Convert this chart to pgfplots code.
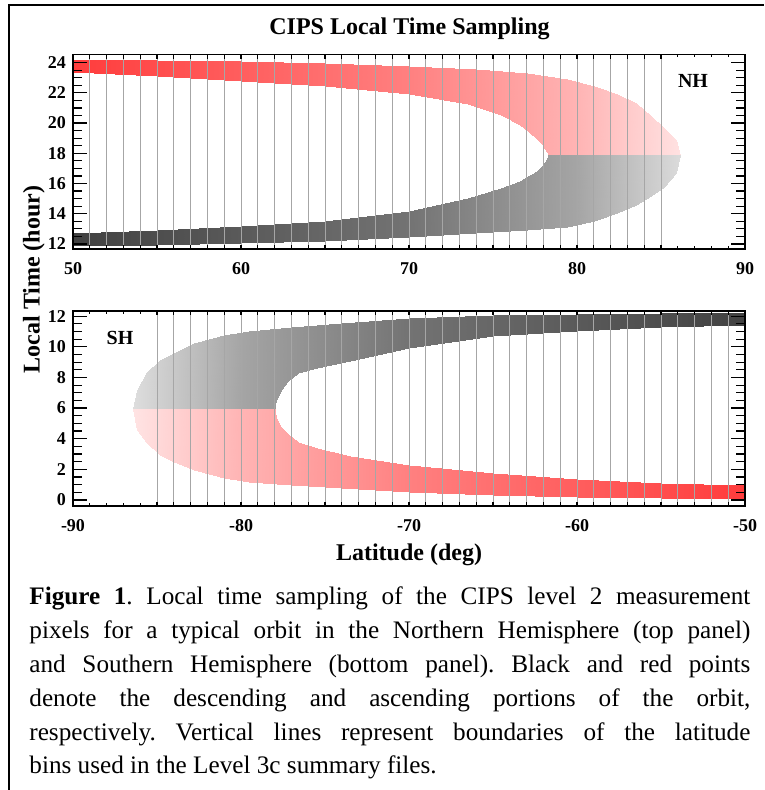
\documentclass[border=0pt]{standalone}
\usepackage{fontspec}
\setmainfont{Liberation Serif}
\usepackage{pgfplots}
\pgfplotsset{compat=1.18}

\pgfplotsset{
  colormap={redfade}{rgb255(0pt)=(255,60,60); rgb255(200pt)=(255,128,128); rgb255(300pt)=(255,180,180); rgb255(365pt)=(255,228,228)},
  colormap={greyfade}{rgb255(0pt)=(65,65,65); rgb255(200pt)=(115,115,115); rgb255(300pt)=(165,165,165); rgb255(365pt)=(222,222,222)},
  cips/.style={
    scale only axis, width=336pt,
    axis line style={line width=0.9pt},
    tick style={line width=0.6pt, black},
    tick align=inside,
    minor x tick num=9, minor y tick num=3,
    every x tick/.append style={/pgfplots/major tick length=2.2pt, /pgfplots/minor tick length=1.4pt},
    every y tick/.append style={/pgfplots/major tick length=7pt, /pgfplots/minor tick length=4.5pt},
    ticklabel style={font=\bfseries\fontsize{9}{10}\selectfont},
    /pgf/number format/assume math mode=true,
    xticklabel style={yshift=-3pt},
    axis on top,
    point meta min=50, point meta max=86.5,
    extra x tick style={grid=major, major grid style={black!35, line width=0.45pt}},
    extra x tick labels={},
  },
  band/.style={surf, shader=interp, colormap name=#1, point meta={abs(\thisrow{lat})}},
}

\begin{document}
\begin{tikzpicture}
\useasboundingbox (0,0) rectangle (382pt,395pt);
\draw[line width=1pt] (4.35pt,0) -- (4.35pt,392.6pt) -- (382pt,392.6pt);

% northern hemisphere
\begin{axis}[cips, at={(36.5pt,270.5pt)}, anchor=south west, height=97.2pt,
  xmin=50, xmax=90, ymin=11.67, ymax=24.53,
  xtick={50,60,...,90}, ytick={12,14,...,24},
  extra x ticks={51,...,85}]
% ascending (red)
\addplot[band=redfade] table[x=lat, y=lt] {
lat lt
50 24.2
55 24.15
60 24.08
65 24.0
70 23.8
74 23.55
77 23.3
79.4 22.9
81 22.45
82.4 21.9
83.5 21.3
84.4 20.5
85.2 19.7
85.9 18.9
86.15 17.9

50 23.38
55 23.1
60 22.8
65 22.45
70 21.95
73.5 21.25
75.5 20.55
76.6 19.9
77.2 19.35
77.6 18.95
77.9 18.6
78.1 18.3
78.2 18.1
78.28 17.98
78.3 17.9
};
% descending (black)
\addplot[band=greyfade] table[x=lat, y=lt] {
lat lt
50 11.88
55 11.95
60 12.05
65 12.2
70 12.45
74 12.7
77 12.9
79.4 13.14
81 13.55
82.4 14.03
83.5 14.55
84.4 15.15
85.2 15.8
85.9 16.68
86.15 17.9

50 12.74
55 12.95
60 13.2
65 13.55
70 14.2
73.5 15.05
75.5 15.72
76.6 16.2
77.2 16.55
77.6 16.85
77.9 17.15
78.1 17.45
78.2 17.65
78.28 17.82
78.3 17.9
};
\end{axis}

% southern hemisphere
\begin{axis}[cips, at={(36.5pt,142pt)}, anchor=south west, height=97.6pt,
  xmin=-90, xmax=-50, ymin=-0.39, ymax=12.35,
  xtick={-90,-80,...,-50}, ytick={0,2,...,12},
  extra x ticks={-85,...,-51}]
\addplot[band=greyfade] table[x=lat, y=lt] {
lat lt
-50 12.3
-55 12.22
-60 12.15
-65 12.05
-70 11.85
-74 11.55
-77 11.3
-79.5 11.05
-81 10.8
-82.8 10.22
-84 9.6
-84.8 9.13
-85.6 8.37
-86.2 7.18
-86.45 5.92

-50 11.45
-55 11.3
-60 11.05
-65 10.7
-70 9.95
-73.5 9.1
-75.5 8.6
-76.6 8.3
-77.2 7.75
-77.6 7.15
-77.8 6.8
-77.9 6.5
-77.95 6.25
-77.98 6.0
-77.98 5.92
};
\addplot[band=redfade] table[x=lat, y=lt] {
lat lt
-50 0.08
-55 0.13
-60 0.2
-65 0.32
-70 0.55
-74 0.8
-77 0.98
-79.5 1.2
-81 1.45
-82.8 1.96
-84 2.5
-84.8 2.94
-85.6 3.7
-86.2 4.57
-86.45 5.92

-50 0.95
-55 1.12
-60 1.4
-65 1.75
-70 2.3
-73.5 2.9
-75.5 3.4
-76.6 3.8
-77.2 4.3
-77.6 4.75
-77.8 5.1
-77.9 5.4
-77.95 5.65
-77.98 5.85
-77.98 5.92
};
\end{axis}

\node[anchor=base, font=\bfseries\fontsize{12}{14}\selectfont] at (204.75pt,377.5pt) {CIPS Local Time Sampling};
\node[anchor=base, font=\bfseries\fontsize{10}{12}\selectfont] at (346.5pt,351pt) {NH};
\node[anchor=base, font=\bfseries\fontsize{10}{12}\selectfont] at (60pt,222.85pt) {SH};
\node[anchor=base, font=\bfseries\fontsize{12}{14}\selectfont] at (204.5pt,114.5pt) {Latitude (deg)};
\node[anchor=base, rotate=90, font=\bfseries\fontsize{12}{14}\selectfont] at (19.75pt,255.25pt) {Local Time (hour)};

\node[anchor=base west, inner sep=0pt, text width=360.5pt, align=justify,
  font=\fontsize{12.6}{16.9}\selectfont] at (14.5pt,92.5pt)
  {\frenchspacing\hyphenpenalty=10000 \textbf{Figure 1}. Local time sampling of the CIPS level 2 measurement\linebreak
  pixels for a typical orbit in the Northern Hemisphere (top panel)\linebreak
  and Southern Hemisphere (bottom panel). Black and red points\linebreak
  denote the descending and ascending portions of the orbit,\linebreak
  respectively. Vertical lines represent boundaries of the latitude\linebreak
  bins used in the Level 3c summary files.};
\end{tikzpicture}
\end{document}
